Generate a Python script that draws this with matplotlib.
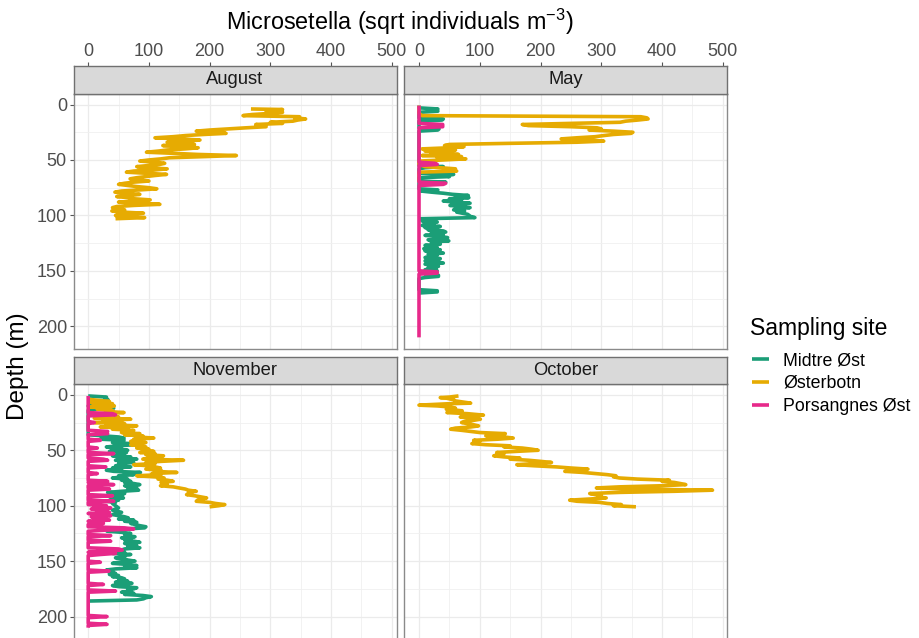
import matplotlib
matplotlib.use("Agg")
import matplotlib.pyplot as plt
from matplotlib.lines import Line2D
from matplotlib.ticker import MultipleLocator

plt.rcParams['font.family'] = ['Liberation Sans', 'DejaVu Sans']
plt.rcParams['mathtext.fontset'] = 'custom'
plt.rcParams['mathtext.rm'] = 'Liberation Sans'
plt.rcParams['mathtext.default'] = 'regular'

# site names and colours (Dark2)
sites = ['Midtre Øst', 'Østerbotn', 'Porsangnes Øst']
site_colors = ['#1B9E77', '#E6AB02', '#E7298A']
months = ['August', 'May', 'November', 'October']

# (depth m, sqrt individuals m-3)
aug_osterbotn = [(4,268),(4.5,320),(5.5,300),(6,293),(7,320),(8,300),(9,270),(10,255),(11,348),(12,340),
    (13,358),(14,345),(15,337),(16,300),(17,320),(18,276),(19,290),(20,293),(21,260),(22,230),(23,200),
    (24,178),(25,215),(26,227),(27,190),(28,160),(29,140),(30,110),(31,150),(32,184),(33,160),(34,130),
    (35,150),(36,175),(37,123),(38,150),(39,181),(40,160),(41,130),(42,115),(43,96),(44,140),(45,180),
    (46,244),(47,190),(48,134),(49,120),(50,100),(51,85),(52,110),(53,126),(54,118),(55,100),(56,80),
    (57,95),(58,130),(59,110),(60,75),(61,63),(62,95),(63,129),(64,110),(65,95),(66,80),(67,69),(68,80),
    (69,100),(70,75),(71,60),(72,50),(73,65),(74,80),(75,100),(76,113),(77,85),(78,55),(79,44),(80,60),
    (81,85),(82,70),(83,47),(84,65),(85,75),(86,102),(87,80),(88,50),(89,85),(90,118),(91,75),(92,47),
    (93,40),(94,45),(95,60),(96,39),(97,55),(98,91),(99,70),(100,45),(101,60),(102,93),(103,45)]

may_midtre = [(1,0),(3,0),(4,31),(5,20),(6,31),(7,0),(12,0),(13,40),(14,38),(15,0),(21,0),(22,33),(23,31),
    (24,0),(55,0),(56,40),(57,10),(58,0),(62,0),(63,57),(64,40),(65,50),(66,0),(69,0),(70,44),(71,0),(76,0),
    (77,31),(78,3),(79,20),(80,40),(81,55),(82,81),(83,60),(84,82),(85,50),(86,70),(87,40),(88,60),(89,84),
    (90,65),(91,51),(92,70),(93,84),(94,60),(95,57),(96,75),(97,62),(99,80),(101,85),(102,92),(103,3),
    (104,20),(105,5),(106,30),(107,10),(108,25),(109,5),(110,35),(111,10),(112,30),(113,15),(114,40),
    (115,44),(116,20),(117,40),(118,10),(119,35),(120,47),(121,46),(122,15),(123,49),(124,20),(125,30),
    (126,35),(127,10),(128,25),(129,30),(130,8),(131,35),(132,10),(133,28),(134,40),(135,15),(136,30),
    (137,25),(138,10),(139,35),(140,20),(141,10),(142,30),(143,40),(144,10),(145,25),(146,32),(147,15),
    (148,28),(149,10),(150,30),(151,20),(152,28),(153,10),(154,32),(155,32),(156,10),(157,0),(167,0),
    (168,30),(169,30),(170,0)]
may_osterbotn = [(1,0),(4,0),(8,0),(10,5),(11,365),(12,375),(13,377),(14,360),(15,340),(16,331),(17,250),
    (18,170),(19,180),(20,250),(21,293),(22,300),(23,280),(24,320),(25,352),(26,349),(27,320),(28,304),
    (29,290),(30,260),(31,234),(32,280),(33,304),(34,260),(35,150),(36,50),(37,42),(38,74),(39,50),(40,5),
    (41,60),(42,10),(43,55),(44,20),(45,65),(46,5),(47,70),(48,30),(49,77),(50,40),(51,0),(54,0),(56,10),
    (58,60),(59,55),(60,62),(61,0),(64,0),(70,0)]
may_porsangnes = [(1,0),(17,0),(18,39),(20,39),(21,0),(52,0),(53,26),(54,30),(55,0),(70,0),(71,44),(72,40),
    (73,0),(150,0),(151,30),(152,30),(153,0),(210,0)]

nov_midtre = [(1,0),(2,30),(3,28),(4,32),(5,33),(6,10),(7,30),(8,5),(10,0),(12,42),(13,10),(14,0),(36,0),
    (38,50),(39,59),(40,20),(41,59),(42,55),(43,40),(44,70),(45,75),(46,50),(47,30),(48,55),(49,40),(50,65),
    (51,35),(52,63),(53,50),(54,59),(55,40),(56,70),(57,59),(58,80),(59,45),(60,65),(61,75),(62,50),(63,60),
    (64,45),(65,70),(66,40),(67,55),(68,30),(69,42),(70,86),(71,60),(72,75),(73,50),(74,60),(75,40),(76,65),
    (77,55),(78,70),(79,60),(80,75),(81,85),(82,60),(83,70),(84,80),(85,65),(86,83),(87,55),(88,32),(89,60),
    (90,48),(91,55),(92,35),(93,58),(94,40),(95,50),(96,30),(97,45),(98,40),(100,45),(102,50),(104,40),
    (106,55),(108,40),(110,60),(111,66),(112,50),(113,75),(114,60),(115,80),(116,70),(118,85),(119,95),
    (120,93),(121,60),(122,45),(123,31),(124,55),(125,70),(126,60),(127,65),(128,77),(129,55),(130,70),
    (131,60),(132,75),(133,85),(134,60),(135,70),(136,80),(137,65),(138,85),(139,60),(140,55),(141,48),
    (142,60),(143,40),(144,70),(145,55),(146,60),(147,45),(148,60),(149,65),(150,77),(151,50),(152,40),
    (153,65),(154,80),(155,60),(156,80),(157,45),(158,30),(159,40),(160,34),(161,45),(162,35),(163,50),
    (164,40),(165,55),(166,60),(167,50),(168,65),(169,45),(170,72),(171,60),(172,40),(173,50),(174,80),
    (175,75),(176,65),(177,70),(178,55),(179,75),(180,60),(181,90),(182,104),(183,95),(184,91),(185,80),
    (186,0)]
nov_osterbotn = [(4,0),(6,35),(7,5),(8,40),(9,10),(10,43),(11,4),(12,35),(13,15),(14,40),(15,30),(16,59),
    (17,20),(18,5),(19,30),(20,50),(21,10),(22,70),(23,25),(24,55),(25,10),(26,60),(27,30),(28,80),(29,20),
    (30,65),(31,40),(32,75),(33,70),(34,55),(35,85),(36,60),(37,90),(38,80),(39,108),(40,75),(41,85),
    (42,70),(43,95),(44,80),(45,70),(46,86),(47,95),(48,80),(49,100),(50,90),(51,108),(52,85),(53,110),
    (54,95),(55,124),(56,100),(57,115),(58,90),(59,157),(60,120),(61,95),(62,110),(63,75),(64,100),
    (65,110),(66,119),(67,95),(68,120),(69,110),(70,146),(71,105),(72,120),(73,80),(74,110),(75,125),
    (76,115),(77,130),(78,140),(79,120),(80,125),(81,130),(82,119),(83,140),(84,150),(85,160),(86,165),
    (87,178),(88,165),(89,170),(90,162),(91,175),(92,185),(93,195),(94,185),(95,180),(96,178),(97,200),
    (98,210),(99,225),(100,215),(101,200)]
nov_porsangnes = [(1,0),(16,0),(17,40),(18,45),(19,0),(24,0),(25,10),(26,0),(32,0),(33,32),(34,30),(35,32),
    (36,0),(40,0),(41,20),(42,0),(47,0),(48,15),(49,0),(52,0),(53,42),(54,0),(57,0),(58,25),(59,32),(60,0),
    (64,0),(65,29),(66,0),(70,0),(71,15),(72,0),(77,0),(78,32),(79,0),(80,20),(81,42),(82,0),(84,0),(85,35),
    (86,0),(90,0),(91,40),(92,0),(95,0),(96,42),(97,0),(99,0),(100,30),(101,10),(102,37),(103,5),(104,30),
    (105,15),(106,35),(107,0),(108,25),(109,37),(110,5),(111,30),(112,10),(113,35),(114,0),(116,25),
    (117,0),(119,0),(120,60),(121,75),(122,30),(123,0),(126,0),(127,37),(128,0),(131,0),(132,37),(133,0),
    (138,0),(139,50),(140,56),(141,30),(142,0),(143,45),(144,20),(145,0),(150,0),(151,20),(152,0),(158,0),
    (159,34),(160,0),(170,0),(171,25),(172,0),(176,0),(177,45),(178,0),(199,0),(200,31),(201,0),(206,0),
    (207,31),(208,0),(210,0)]

oct_osterbotn = [(1,65),(2,50),(2.5,35),(3,45),(4.5,57),(5.5,60),(7.5,85),(8,50),(9.3,0),(10,30),(11,52),
    (12,60),(13,45),(14.4,71),(15,55),(16,46),(17,80),(18.3,106),(19,90),(20,68),(21,85),(22,101),(23,90),
    (24,75),(25,70),(26,80),(27,90),(28,98),(29,85),(30,60),(31,52),(32,70),(33,85),(34,100),(35,142),
    (36,120),(37,110),(38,140),(39,155),(40,130),(41,90),(42,100),(43,95),(44,87),(45,110),(46,150),
    (47,140),(48,170),(49,185),(50,196),(51,160),(52,128),(53,140),(54,130),(55,123),(56,140),(57,166),
    (58,150),(59,180),(60,200),(61,218),(62,190),(63,161),(64,190),(65,226),(66,250),(67,278),(68,260),
    (69,240),(70,270),(71,290),(72,310),(73,324),(74,320),(75,330),(76,360),(77,412),(78,400),(79,420),
    (80,430),(81,439),(82,400),(83,330),(84,292),(85,350),(86,483),(87,420),(88,330),(89,281),(90,290),
    (91,300),(92,295),(93,308),(94,280),(95,248),(96,260),(97,297),(98,310),(99,333),(100,320),(101,357)]

x_ticks = [0, 100, 200, 300, 400, 500]
y_ticks = [0, 50, 100, 150, 200]

# which series goes in which panel, in drawing order
panel_series = {
    'August': [(aug_osterbotn, 1)],
    'May': [(may_midtre, 0), (may_osterbotn, 1), (may_porsangnes, 2)],
    'November': [(nov_midtre, 0), (nov_osterbotn, 1), (nov_porsangnes, 2)],
    'October': [(oct_osterbotn, 1)],
}

W, H = 919, 638
fig = plt.figure(figsize=(W / 100, H / 100), dpi=100)

def box(x0, y0, x1, y1):
    return [x0 / W, 1 - y1 / H, (x1 - x0) / W, (y1 - y0) / H]

cols = [(73.5, 396.5), (404.3, 727.5)]
rows = [(65.7, 94.0, 349.0), (356.7, 384.3, 639.3)]  # strip top, panel top, panel bottom
LW = 2.6

for k, month in enumerate(months):
    r, c = divmod(k, 2)
    x0, x1 = cols[c]
    st, pt, pb = rows[r]
    ax = fig.add_axes(box(x0, pt, x1, pb))
    sax = fig.add_axes(box(x0, st, x1, pt))

    for data, si in panel_series[month]:
        d = [p[0] for p in data]
        v = [p[1] for p in data]
        ax.plot(v, d, color=site_colors[si], lw=LW,
                solid_capstyle='butt', solid_joinstyle='round')

    ax.set_xlim(-24.2, 507.7)
    ax.set_ylim(220.5, -9.5)
    ax.set_xticks(x_ticks)
    ax.set_yticks(y_ticks)
    ax.xaxis.set_minor_locator(MultipleLocator(50))
    ax.yaxis.set_minor_locator(MultipleLocator(25))
    ax.grid(True, which='major', color='#EBEBEB', lw=0.9)
    ax.grid(True, which='minor', color='#F0F0F0', lw=0.6)
    ax.set_axisbelow(True)
    for s in ax.spines.values():
        s.set_color('#8a8a8a')
        s.set_linewidth(1.0)
    ax.tick_params(which='both', bottom=False, top=False, labelbottom=False)
    ax.tick_params(which='minor', left=False)
    if c == 0:
        ax.tick_params(axis='y', which='major', length=2.75, width=0.8, color='#555555',
                       labelcolor='#4D4D4D', labelsize=13, pad=2)
    else:
        ax.tick_params(axis='y', which='both', left=False, labelleft=False)

    # strip
    sax.set_facecolor('#D9D9D9')
    sax.set_xlim(ax.get_xlim())
    sax.set_yticks([])
    for s in sax.spines.values():
        s.set_color('#707070')
        s.set_linewidth(1.0)
    sax.text(0.5, 0.5, month, transform=sax.transAxes, ha='center', va='center',
             size=13.2, color='#1A1A1A')
    if r == 0:
        sax.set_xticks(x_ticks)
        sax.xaxis.tick_top()
        sax.tick_params(axis='x', length=2.75, width=0.8, color='#555555',
                        labelcolor='#4D4D4D', labelsize=13, pad=1.5)
    else:
        sax.set_xticks([])

fig.text(400 / W, 1 - 22 / H, 'Microsetella (sqrt individuals m$^{-3}$)',
         ha='center', va='center', size=16.8)
fig.text(18 / W, 1 - 366 / H, 'Depth (m)', rotation=90, ha='center', va='center', size=17.5)

# legend
fig.text(750 / W, 1 - 328 / H, 'Sampling site', ha='left', va='center', size=16.5)
handles = [Line2D([], [], color=col, lw=LW, solid_capstyle='butt') for col in site_colors]
fig.legend(handles, sites, loc='upper left',
           bbox_to_anchor=(751.5 / W, 1 - 352 / H), frameon=False, fontsize=12.8,
           handlelength=0.99, handletextpad=0.8,
           labelspacing=0.33, borderaxespad=0, borderpad=0)

fig.savefig('out.png', dpi=100)
